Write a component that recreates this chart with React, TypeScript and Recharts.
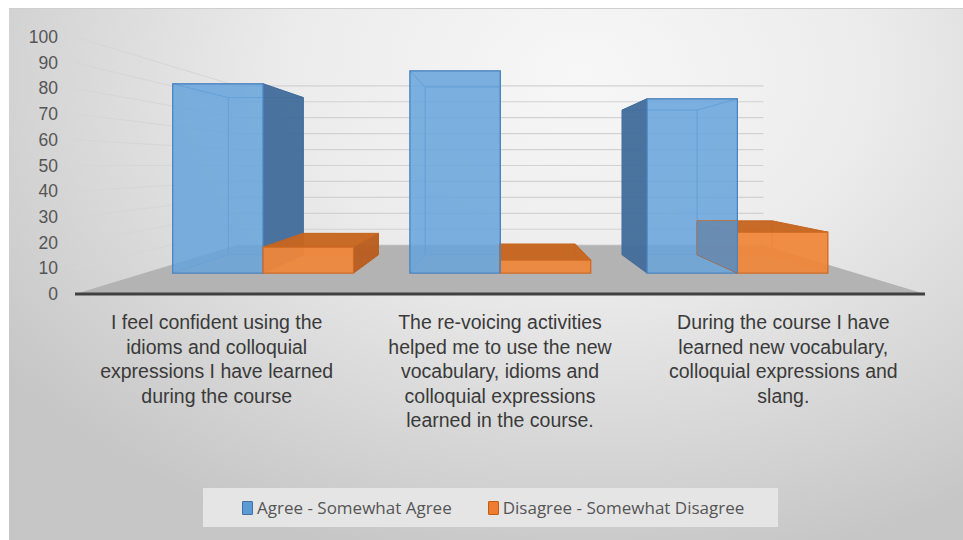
import React from 'react';
import { BarChart, Bar, XAxis, YAxis, CartesianGrid, Legend } from 'recharts';

// survey statements (line breaks as in the picture)
const categories = [
  'I feel confident using the\nidioms and colloquial\nexpressions I have learned\nduring the course',
  'The re-voicing activities\nhelped me to use the new\nvocabulary, idioms and\ncolloquial expressions\nlearned in the course.',
  'During the course I have\nlearned new vocabulary,\ncolloquial expressions and\nslang.',
];
const agree = [88, 94, 81];
const disagree = [12, 6, 19];
const yTicks = [0, 10, 20, 30, 40, 50, 60, 70, 80, 90, 100];

const data = categories.map((name, i) => ({ name, agree: agree[i], disagree: disagree[i] }));

const W = 963;
const H = 540;
const MARGIN = { top: 37, right: 38, left: 15, bottom: 106 };

// fake 3D camera: vanishing point in the middle of the plot area
const VX = (MARGIN.left + 60 + W - MARGIN.right) / 2;
const VY = (MARGIN.top + 294) / 2;
const FRONT = 0.837; // bar front faces
const BACK = 0.695; // bar back faces
const WALL = 0.62; // back wall / end of floor

const proj = (x: number, y: number, r: number) => [VX + (x - VX) * r, VY + (y - VY) * r];
const pts = (arr: number[][]) => arr.map((p) => `${p[0].toFixed(1)},${p[1].toFixed(1)}`).join(' ');

const BLUE = { front: '#66a3dc', side: '#426d9a', top: '#5b93cc', hidden: '#5b9bd5', edge: '#4a84c0' };
const ORANGE = { front: '#f0873a', side: '#b85c1d', top: '#c6651f', hidden: '#ed7d31', edge: '#d06a25' };

function boxFaces(x: number, y: number, width: number, height: number) {
  const x0 = x, x1 = x + width, yt = y, yb = y + height;
  const f = (px: number, py: number) => proj(px, py, FRONT);
  const b = (px: number, py: number) => proj(px, py, BACK);
  return {
    x0, x1, yt, yb,
    FLT: f(x0, yt), FRT: f(x1, yt), FRB: f(x1, yb), FLB: f(x0, yb),
    BLT: b(x0, yt), BRT: b(x1, yt), BRB: b(x1, yb), BLB: b(x0, yb),
  };
}

function Box({ x, y, width, height, c, frontOpacity }: any) {
  if (!height || height <= 0) return null;
  const q = boxFaces(x, y, width, height);
  const faces = {
    back: [q.BLT, q.BRT, q.BRB, q.BLB],
    left: [q.FLT, q.BLT, q.BLB, q.FLB],
    right: [q.FRT, q.BRT, q.BRB, q.FRB],
    top: [q.FLT, q.FRT, q.BRT, q.BLT],
  };
  const leftVis = VX < q.x0;
  const rightVis = VX > q.x1;
  const topVis = VY < q.yt;
  const hidden: number[][][] = [faces.back];
  if (!leftVis) hidden.push(faces.left);
  if (!rightVis) hidden.push(faces.right);
  if (!topVis) hidden.push(faces.top);
  return (
    <g>
      {hidden.map((f, i) => (
        <polygon key={'h' + i} points={pts(f)} fill={c.hidden} fillOpacity={0.18} stroke={c.edge} strokeOpacity={0.55} strokeWidth={1} />
      ))}
      {leftVis && <polygon points={pts(faces.left)} fill={c.side} fillOpacity={0.95} stroke={c.side} strokeWidth={1} />}
      {rightVis && <polygon points={pts(faces.right)} fill={c.side} fillOpacity={0.95} stroke={c.side} strokeWidth={1} />}
      {topVis && <polygon points={pts(faces.top)} fill={c.top} fillOpacity={0.95} stroke={c.top} strokeWidth={1} />}
      <polygon points={pts([q.FLT, q.FRT, q.FRB, q.FLB])} fill={c.front} fillOpacity={frontOpacity} stroke={c.edge} strokeWidth={1.2} />
    </g>
  );
}

const AgreeShape = (props: any) => <Box {...props} c={BLUE} frontOpacity={0.82} />;

const DisagreeShape = (props: any) => {
  const { x, y, width, height, payload } = props;
  const q = boxFaces(x, y, width, height);
  // where the taller agree box stands between camera and this box, show it through the blue glass
  const covered = VX < q.x0 && payload && payload.agree > payload.disagree;
  return (
    <g>
      <Box {...props} c={ORANGE} frontOpacity={0.92} />
      {covered && (
        <g>
          <polygon points={pts([[q.BLT[0], q.BLT[1]], [q.FLT[0], q.BLT[1]], q.FLB, q.BLB])} fill="#5e92c6" fillOpacity={0.88} />
          <line x1={q.FLT[0]} y1={q.BLT[1] - 2} x2={q.FLB[0]} y2={q.FLB[1]} stroke={BLUE.edge} strokeWidth={1.2} />
        </g>
      )}
    </g>
  );
};

// gridlines on the back wall + left wall, floor under the bars
const GridLine = (props: any) => {
  const { x1, x2, y1 } = props;
  const a = proj(x1, y1, WALL);
  const b = proj(x2, y1, WALL);
  const isFloor = Math.abs(y1 - 294) < 1;
  return (
    <g key={props.key}>
      <line x1={x1} y1={y1} x2={a[0]} y2={a[1]} stroke="#d6d6d6" strokeWidth={1} />
      <line x1={a[0]} y1={a[1]} x2={b[0]} y2={b[1]} stroke="#d2d2d2" strokeWidth={1.2} />
      {isFloor && <polygon points={pts([[x1, y1], [x2, y1], b, a])} fill="#b3b3b3" />}
    </g>
  );
};

const YTick = ({ x, y, payload }: any) => (
  <text x={x} y={y} textAnchor="end" dominantBaseline="central" fontSize={17.5} fill="#555555" fontFamily="'Liberation Sans', Arial, sans-serif">
    {payload.value}
  </text>
);

const CatTick = ({ x, y, payload }: any) => {
  const lines = String(payload.value).split('\n');
  return (
    <text x={x} y={y} textAnchor="middle" fontSize={19.5} fill="#3a3a3a" fontFamily="'Liberation Sans', Arial, sans-serif">
      {lines.map((l, i) => (
        <tspan key={i} x={x} y={y + 35 + i * 24.6}>{l}</tspan>
      ))}
    </text>
  );
};

const renderLegend = (props: any) => {
  const { payload } = props;
  return (
    <div style={{ width: 575, height: 39, background: '#e5e5e5', display: 'flex', alignItems: 'center', paddingLeft: 39, boxSizing: 'border-box', fontFamily: "'Open Sans', sans-serif", fontSize: 17, color: '#555555', whiteSpace: 'nowrap' }}>
      {(payload || []).map((p: any, i: number) => (
        <span key={i} style={{ display: 'flex', alignItems: 'center', marginRight: 36, flexShrink: 0, whiteSpace: 'nowrap' }}>
          <span style={{ display: 'inline-block', width: 9, height: 12, background: p.color, border: `1px solid ${i === 0 ? '#41719c' : '#c55a11'}`, borderRadius: 1, marginRight: 4, flexShrink: 0 }} />
          {p.value}
        </span>
      ))}
    </div>
  );
};

export default function App() {
  return (
    <div style={{ position: 'absolute', left: 0, top: 0, width: W, height: H, background: '#ffffff', overflow: 'hidden' }}>
      <div
        style={{
          position: 'absolute', left: 9, top: 8, width: W - 9, height: H - 8,
          borderTop: '1px solid #cfcfcf', boxSizing: 'border-box',
          background: 'radial-gradient(ellipse 75% 95% at 60% 12%, #f7f7f7 0%, #ececec 40%, #d6d6d6 75%, #c6c6c6 100%)',
        }}
      />
      <div style={{ position: 'absolute', left: 0, top: 0 }}>
        <BarChart width={W} height={H} data={data} margin={MARGIN} barCategoryGap="12%" barGap={0}>
          <CartesianGrid vertical={false} horizontal={GridLine as any} />
          <XAxis dataKey="name" interval={0} tickLine={false} tickSize={0} tickMargin={0} height={140}
            axisLine={{ stroke: '#404040', strokeWidth: 3 }} tick={<CatTick />} />
          <YAxis domain={[0, 100]} ticks={yTicks} width={60} axisLine={false} tickLine={false} tickMargin={11} tick={<YTick />} />
          <Legend layout="horizontal" verticalAlign="middle" align="center" content={renderLegend}
            wrapperStyle={{ position: 'absolute', left: 203, top: 488, width: 575, height: 39 }} />
          <Bar dataKey="agree" name="Agree - Somewhat Agree" fill="#5b9bd5" shape={AgreeShape} isAnimationActive={false} />
          <Bar dataKey="disagree" name="Disagree - Somewhat Disagree" fill="#ed7d31" shape={DisagreeShape} isAnimationActive={false} />
        </BarChart>
      </div>
    </div>
  );
}
